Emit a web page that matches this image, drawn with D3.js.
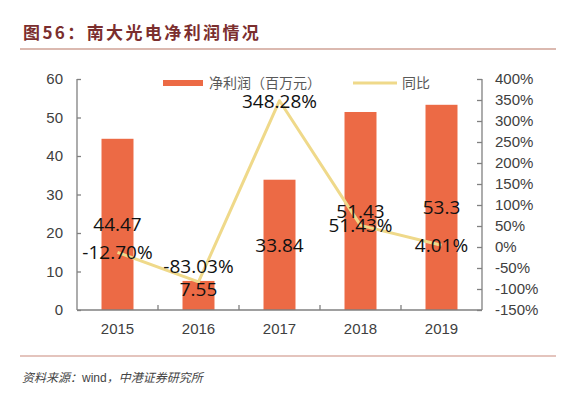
<!DOCTYPE html>
<html>
<head>
<meta charset="utf-8">
<script src="https://cdn.jsdelivr.net/npm/d3@7/dist/d3.min.js"></script>
<style>
  body { margin: 0; background: #fff; }
  svg { display: block; }
</style>
</head>
<body>
<svg width="576" height="411"></svg>
<script>
'use strict';

// datos
var years = ["2015", "2016", "2017", "2018", "2019"];
var netProfit = [44.47, 7.55, 33.84, 51.43, 53.3];
var yoy = [-12.70, -83.03, 348.28, 51.43, 4.01];
var leftTicks = [0, 10, 20, 30, 40, 50, 60];
var rightTicks = [-150, -100, -50, 0, 50, 100, 150, 200, 250, 300, 350, 400];

var svg = d3.select("svg");
var plot = { left: 77, right: 482, top: 79, bottom: 310 };
var barColor = "#ec6a45", lineColor = "#efd98a", axisColor = "#808080";
var tickFont = "'Liberation Sans', Arial, sans-serif";
var labelFont = "'Open Sans', 'Noto Sans', sans-serif";
var cjkFont = "'Noto Sans CJK SC', sans-serif";

// titulo
svg.append("text")
  .attr("x", 23).attr("y", 39)
  .attr("font-family", cjkFont).attr("font-weight", "bold")
  .attr("font-size", 17).attr("letter-spacing", 2.4)
  .attr("fill", "#7b2e2e")
  .text("图56：南大光电净利润情况");
svg.append("line")
  .attr("x1", 20).attr("x2", 556).attr("y1", 49).attr("y2", 49)
  .attr("stroke", "#b87462").attr("stroke-width", 1.2);

// escalas
var x = d3.scaleBand().domain(years).range([plot.left, plot.right]).padding(0);
var y = d3.scaleLinear().domain([0, 60]).range([plot.bottom, plot.top]);
var y2 = d3.scaleLinear().domain([-150, 400]).range([plot.bottom, plot.top]);
var barW = x.bandwidth() * 0.395;

// barras
svg.selectAll(".bar")
  .data(netProfit)
  .enter().append("rect")
  .attr("class", "bar")
  .attr("x", function (d, i) { return x(years[i]) + x.bandwidth() / 2 - barW / 2; })
  .attr("y", function (d) { return y(d); })
  .attr("width", barW)
  .attr("height", function (d) { return y(0) - y(d); })
  .attr("fill", barColor);

// ejes
var gl = svg.append("g")
  .attr("transform", "translate(" + plot.left + ",0)")
  .call(d3.axisRight(y).tickValues(leftTicks).tickSize(4).tickFormat(function (d) { return String(d); }));
gl.selectAll("text").attr("x", -14).attr("text-anchor", "end");

var gr = svg.append("g")
  .attr("transform", "translate(" + plot.right + ",0)")
  .call(d3.axisLeft(y2).tickValues(rightTicks).tickSize(5).tickFormat(function (d) { return d + "%"; }));
gr.selectAll("text").attr("x", 13).attr("text-anchor", "start");

var gb = svg.append("g")
  .attr("transform", "translate(0," + plot.bottom + ")")
  .call(d3.axisBottom(x).tickSize(0).tickPadding(13));

[gl, gr, gb].forEach(function (g) {
  g.select(".domain").attr("stroke", axisColor).attr("stroke-width", 1.3);
  g.selectAll(".tick line").attr("stroke", axisColor).attr("stroke-width", 1.3);
  g.selectAll("text").attr("font-family", tickFont).attr("font-size", 15).attr("fill", "#404040");
});
gl.select(".domain").attr("d", "M0," + plot.top + "V" + plot.bottom);
gr.select(".domain").attr("d", "M0," + plot.top + "V" + plot.bottom);
gb.select(".domain").attr("d", "M" + plot.left + ",0H" + plot.right);

// marcas entre categorias
svg.selectAll(".sep")
  .data(years.slice(1))
  .enter().append("line")
  .attr("x1", function (d) { return x(d); })
  .attr("x2", function (d) { return x(d); })
  .attr("y1", plot.bottom).attr("y2", plot.bottom - 5)
  .attr("stroke", axisColor).attr("stroke-width", 1.3);

// linea de variacion
var line = d3.line()
  .x(function (d, i) { return x(years[i]) + x.bandwidth() / 2; })
  .y(function (d) { return y2(d); });
svg.append("path")
  .datum(yoy)
  .attr("d", line)
  .attr("fill", "none")
  .attr("stroke", lineColor)
  .attr("stroke-width", 3)
  .attr("stroke-linejoin", "round");

// etiquetas de barras
svg.selectAll(".barlabel")
  .data(netProfit)
  .enter().append("text")
  .attr("x", function (d, i) { return x(years[i]) + x.bandwidth() / 2; })
  .attr("y", function (d) {
    var mid = (y(d) + y(0)) / 2;
    return Math.min(mid, plot.bottom - 21);
  })
  .attr("dy", "0.36em")
  .attr("text-anchor", "middle")
  .attr("font-family", labelFont).attr("font-size", 19)
  .attr("fill", "#111")
  .text(function (d) { return d; });

// etiquetas de la linea (la de 2016 va arriba para no tapar la barra)
var lineLabelShift = [0, -16, 0, 0, 0];
svg.selectAll(".linelabel")
  .data(yoy)
  .enter().append("text")
  .attr("x", function (d, i) { return x(years[i]) + x.bandwidth() / 2; })
  .attr("y", function (d, i) { return y2(d) + lineLabelShift[i]; })
  .attr("dy", "0.36em")
  .attr("text-anchor", "middle")
  .attr("font-family", labelFont).attr("font-size", 19)
  .attr("fill", "#111")
  .text(function (d) { return d.toFixed(2) + "%"; });

// leyenda
var lg = svg.append("g");
lg.append("rect").attr("x", 163).attr("y", 80).attr("width", 40).attr("height", 6).attr("fill", barColor);
lg.append("text").attr("x", 209).attr("y", 83).attr("dy", "0.36em")
  .attr("font-family", cjkFont).attr("font-size", 14).attr("fill", "#595959")
  .text("净利润（百万元）");
lg.append("line").attr("x1", 353).attr("x2", 397).attr("y1", 83).attr("y2", 83)
  .attr("stroke", lineColor).attr("stroke-width", 3);
lg.append("text").attr("x", 402).attr("y", 83).attr("dy", "0.36em")
  .attr("font-family", cjkFont).attr("font-size", 14).attr("fill", "#595959")
  .text("同比");

// fuente
svg.append("line")
  .attr("x1", 20).attr("x2", 556).attr("y1", 356).attr("y2", 356)
  .attr("stroke", "#c98a7c").attr("stroke-width", 1.2);
var src = svg.append("text")
  .attr("x", 22).attr("y", 382)
  .attr("font-family", cjkFont).attr("font-size", 12)
  .attr("fill", "#444");
src.append("tspan").attr("font-style", "italic").text("资料来源：");
src.append("tspan").attr("font-family", tickFont).text("wind");
src.append("tspan").attr("font-style", "italic").text("，中港证券研究所");
</script>
</body>
</html>
